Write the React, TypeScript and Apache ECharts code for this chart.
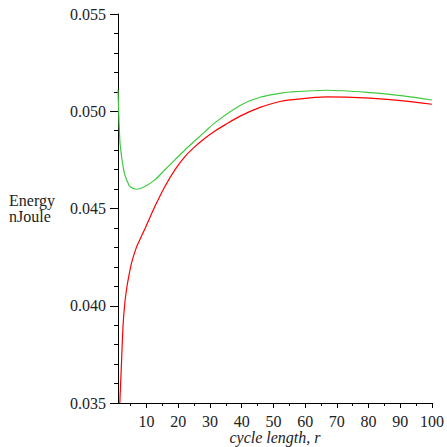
import React, { useEffect, useRef } from "react";
import * as echarts from "echarts";

const greenR = [1, 1.57, 2.1, 2.6, 3.15, 4.2, 4.73, 6.84, 9.46, 12.62, 15.78, 18.94, 22.1, 25.25, 28.41, 32.1, 39.5, 45.8, 52.1, 55.2, 66.8, 80.5, 90.9, 100];
const greenE = [0.0511, 0.04853, 0.0477, 0.04716, 0.04673, 0.0463, 0.04613, 0.04599, 0.04613, 0.04647, 0.04699, 0.0475, 0.04801, 0.04848, 0.04895, 0.04948, 0.0503, 0.05072, 0.05092, 0.05099, 0.05108, 0.05096, 0.05079, 0.05058];
const redR = [1.57, 2.1, 2.6, 3.15, 3.7, 4.19, 5.26, 6.8, 7.88, 9.46, 11.04, 12.62, 15.78, 18.94, 22.1, 25.25, 28.41, 31.57, 34.7, 39.5, 45.8, 52.1, 55.2, 66.8, 80.5, 90.9, 100];
const redE = [0.035, 0.03705, 0.039, 0.04014, 0.04085, 0.04133, 0.04219, 0.043, 0.04339, 0.04395, 0.04453, 0.0451, 0.04613, 0.04699, 0.04767, 0.04818, 0.04861, 0.04898, 0.0493, 0.04975, 0.0502, 0.0505, 0.05058, 0.05074, 0.05067, 0.05053, 0.05036];
const xMajorTicks = [10, 20, 30, 40, 50, 60, 70, 80, 90, 100];
const xMinorTicks = [5, 15, 25, 35, 45, 55, 65, 75, 85, 95];

const FONT = "Liberation Serif";
const richLabel = { s: { fontFamily: FONT, fontSize: 16, color: "#222" } };

export default function App() {
  const ref = useRef<HTMLDivElement>(null);
  useEffect(() => {
    if (!ref.current) return;
    const chart = echarts.init(ref.current, undefined, { renderer: "svg" });
    const axisLine = { show: true, lineStyle: { color: "#000", width: 1 } };
    chart.setOption({
      animation: false,
      backgroundColor: "#fff",
      textStyle: { fontFamily: FONT, fontSize: 16, color: "#222" },
      grid: { left: 118, right: 15, top: 14, bottom: 44, containLabel: false, outerBoundsMode: "none" },
      xAxis: [
        {
          type: "value",
          min: 1,
          max: 100,
          position: "bottom",
          axisLine,
          splitLine: { show: false },
          axisTick: { show: true, length: 5, inside: false, customValues: xMajorTicks, lineStyle: { color: "#000" } },
          axisLabel: {
            show: true,
            customValues: xMajorTicks,
            margin: 10,
            fontFamily: FONT,
            fontSize: 16,
            color: "#222",
            formatter: (v: number) => `{s|${v}}`,
            rich: richLabel,
          },
          name: "cycle length, r",
          nameLocation: "middle",
          nameGap: 26,
          nameMoveOverlap: false,
          nameTextStyle: { fontFamily: FONT, fontSize: 16, fontStyle: "italic", color: "#222", lineHeight: 16 },
        },
        {
          type: "value",
          min: 1,
          max: 100,
          position: "bottom",
          axisLine: { show: false },
          splitLine: { show: false },
          axisTick: { show: true, length: 3, customValues: xMinorTicks, lineStyle: { color: "#000" } },
          axisLabel: { show: false },
        },
      ],
      yAxis: {
        type: "value",
        min: 0.035,
        max: 0.055,
        interval: 0.005,
        axisLine,
        splitLine: { show: false },
        axisTick: { show: true, length: 8, lineStyle: { color: "#000" } },
        minorTick: { show: true, splitNumber: 5, length: 4, lineStyle: { color: "#000" } },
        axisLabel: {
          margin: 12,
          fontFamily: FONT,
          fontSize: 16,
          color: "#222",
          formatter: (v: number) => `{s|${v.toFixed(3)}}`,
          rich: richLabel,
        },
        name: "Energy\nnJoule",
        nameLocation: "middle",
        nameRotate: 0,
        nameGap: 109,
        nameMoveOverlap: false,
        nameTextStyle: { fontFamily: FONT, fontSize: 16, color: "#222", align: "left", verticalAlign: "middle", lineHeight: 16 },
      },
      series: [
        {
          type: "line",
          name: "green",
          xAxisIndex: 0,
          data: greenR.map((r, i) => [r, greenE[i]]),
          smooth: 0.3,
          showSymbol: false,
          lineStyle: { color: "#3ec93e", width: 1.2 },
          clip: true,
        },
        {
          type: "line",
          name: "red",
          xAxisIndex: 0,
          data: redR.map((r, i) => [r, redE[i]]),
          smooth: 0.3,
          showSymbol: false,
          lineStyle: { color: "#ff0000", width: 1.2 },
          clip: true,
        },
      ],
    });
    return () => chart.dispose();
  }, []);
  return <div ref={ref} style={{ width: 447, height: 447, position: "absolute", left: 0, top: 0 }} />;
}
